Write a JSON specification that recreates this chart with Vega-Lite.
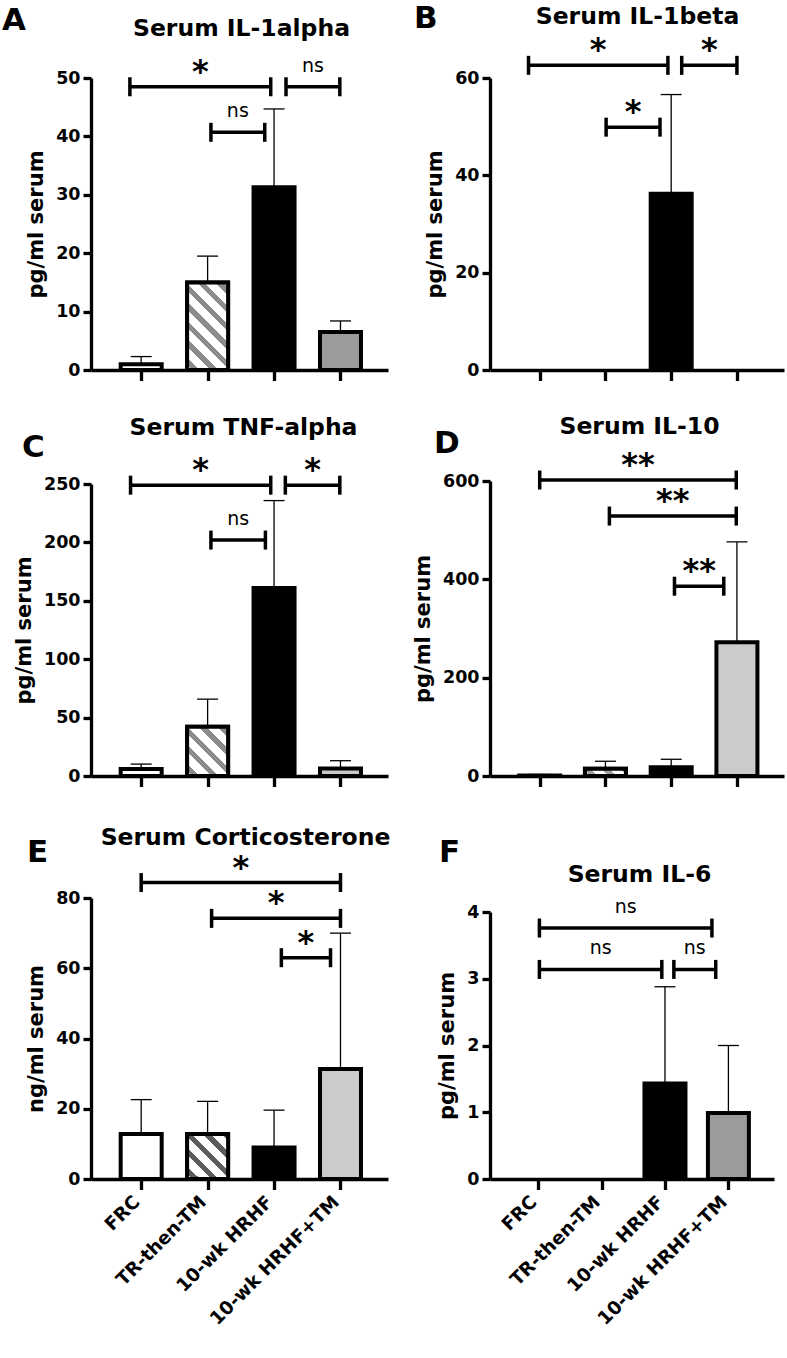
{
  "$schema": "https://vega.github.io/schema/vega-lite/v6.json",
  "background": "white",
  "padding": {"left": 2, "top": 3, "right": 2, "bottom": 10},
  "bounds": "flush",
  "align": "each",
  "columns": 2,
  "spacing": {"row": 111, "column": 102},
  "resolve": {"scale": {"fill": "independent"}},
  "datasets": {
    "bars_A": [
      {"group": "FRC", "pos": 1, "mean": 1.0, "upper": 2.3},
      {"group": "TR-then-TM", "pos": 2, "mean": 15.0, "upper": 19.5},
      {"group": "10-wk HRHF", "pos": 3, "mean": 31.3, "upper": 44.7},
      {"group": "10-wk HRHF+TM", "pos": 4, "mean": 6.5, "upper": 8.4}
    ],
    "br_A": [
      {"id": "a1", "from": 0.83, "to": 2.95, "y": 48.5, "label": "*"},
      {"id": "a2", "from": 2.05, "to": 2.86, "y": 40.7, "label": "ns"},
      {"id": "a3", "from": 3.18, "to": 3.99, "y": 48.5, "label": "ns"}
    ],
    "bars_B": [
      {"group": "FRC", "pos": 1, "mean": 0, "upper": 0},
      {"group": "TR-then-TM", "pos": 2, "mean": 0, "upper": 0},
      {"group": "10-wk HRHF", "pos": 3, "mean": 36.2, "upper": 56.6},
      {"group": "10-wk HRHF+TM", "pos": 4, "mean": 0, "upper": 0}
    ],
    "br_B": [
      {"id": "b1", "from": 0.83, "to": 2.95, "y": 62.6, "label": "*"},
      {"id": "b2", "from": 3.16, "to": 4.0, "y": 62.6, "label": "*"},
      {"id": "b3", "from": 2.01, "to": 2.83, "y": 49.9, "label": "*"}
    ],
    "bars_C": [
      {"group": "FRC", "pos": 1, "mean": 6.0, "upper": 10.2},
      {"group": "TR-then-TM", "pos": 2, "mean": 42.1, "upper": 65.8},
      {"group": "10-wk HRHF", "pos": 3, "mean": 160.9, "upper": 235.8},
      {"group": "10-wk HRHF+TM", "pos": 4, "mean": 6.5, "upper": 13.1}
    ],
    "br_C": [
      {"id": "c1", "from": 0.84, "to": 2.95, "y": 249, "label": "*"},
      {"id": "c2", "from": 3.17, "to": 3.99, "y": 249, "label": "*"},
      {"id": "c3", "from": 2.05, "to": 2.87, "y": 202, "label": "ns"}
    ],
    "bars_D": [
      {"group": "FRC", "pos": 1, "mean": 1.0, "upper": 3.0},
      {"group": "TR-then-TM", "pos": 2, "mean": 15.0, "upper": 30.0},
      {"group": "10-wk HRHF", "pos": 3, "mean": 17.7, "upper": 34.0},
      {"group": "10-wk HRHF+TM", "pos": 4, "mean": 271.8, "upper": 476.0}
    ],
    "br_D": [
      {"id": "d1", "from": 1.0, "to": 3.99, "y": 602, "label": "**"},
      {"id": "d2", "from": 2.06, "to": 3.99, "y": 528.7, "label": "**"},
      {"id": "d3", "from": 3.05, "to": 3.8, "y": 386, "label": "**"}
    ],
    "bars_E": [
      {"group": "FRC", "pos": 1, "mean": 12.8, "upper": 22.6},
      {"group": "TR-then-TM", "pos": 2, "mean": 12.8, "upper": 22.1},
      {"group": "10-wk HRHF", "pos": 3, "mean": 9.0, "upper": 19.6},
      {"group": "10-wk HRHF+TM", "pos": 4, "mean": 31.3, "upper": 70.0}
    ],
    "br_E": [
      {"id": "e1", "from": 1.0, "to": 4.0, "y": 84.4, "label": "*"},
      {"id": "e2", "from": 2.06, "to": 4.0, "y": 74.2, "label": "*"},
      {"id": "e3", "from": 3.11, "to": 3.85, "y": 63.0, "label": "*"}
    ],
    "bars_F": [
      {"group": "FRC", "pos": 1, "mean": 0, "upper": 0},
      {"group": "TR-then-TM", "pos": 2, "mean": 0, "upper": 0},
      {"group": "10-wk HRHF", "pos": 3, "mean": 1.43, "upper": 2.88},
      {"group": "10-wk HRHF+TM", "pos": 4, "mean": 0.99, "upper": 2.0}
    ],
    "br_F": [
      {"id": "f1", "from": 1.02, "to": 3.74, "y": 3.76, "label": "ns"},
      {"id": "f2", "from": 1.02, "to": 2.95, "y": 3.14, "label": "ns"},
      {"id": "f3", "from": 3.14, "to": 3.8, "y": 3.14, "label": "ns"}
    ]
  },
  "concat": [
    {
      "width": 297, "height": 292,
      "title": {"text": "A", "anchor": "start", "frame": "group", "dx": -89, "offset": -20.7},
      "layer": [
        {
          "data": {"name": "bars_A"},
          "transform": [{"filter": "datum.mean > 0"}],
          "mark": {"type": "bar", "orient": "vertical", "width": 41, "stroke": "black", "strokeWidth": 4},
          "encoding": {
            "x": {"field": "pos", "type": "quantitative", "scale": {"domain": [0.32, 4.64], "nice": false, "zero": false},
                  "axis": {"values": [1, 2, 3, 4], "labels": false, "title": "Serum IL-1alpha", "titleX": 150, "titleY": -335, "titleAngle": 0, "titleAlign": "center", "titleBaseline": "alphabetic"}},
            "y": {"field": "mean", "type": "quantitative", "scale": {"domain": [0, 50], "range": [292, 0], "nice": false, "zero": false},
                  "axis": {"values": [0, 10, 20, 30, 40, 50], "title": "pg/ml serum"}},
            "y2": {"datum": 0},
            "fill": {"field": "group", "type": "nominal", "scale": {"domain": ["FRC", "TR-then-TM", "10-wk HRHF", "10-wk HRHF+TM"], "range": ["white", "white", "black", "#9b9b9b"]}, "legend": null}
          }
        },
        {
          "data": {"name": "bars_A"},
          "transform": [{"filter": "datum.group == 'TR-then-TM' && datum.mean > 0"}],
          "mark": {"type": "bar", "orient": "vertical", "width": 41, "stroke": "black", "strokeWidth": 4,
            "fill": {"gradient": "linear", "x1": 0, "y1": 1, "x2": 0.5636, "y2": -0.2042, "stops": [
              {"offset": 0, "color": "white"},
              {"offset": 0.0429, "color": "white"}, {"offset": 0.0429, "color": "#8c8c8c"}, {"offset": 0.1, "color": "#8c8c8c"}, {"offset": 0.1, "color": "white"},
              {"offset": 0.1857, "color": "white"}, {"offset": 0.1857, "color": "#8c8c8c"}, {"offset": 0.2429, "color": "#8c8c8c"}, {"offset": 0.2429, "color": "white"},
              {"offset": 0.3286, "color": "white"}, {"offset": 0.3286, "color": "#8c8c8c"}, {"offset": 0.3857, "color": "#8c8c8c"}, {"offset": 0.3857, "color": "white"},
              {"offset": 0.4714, "color": "white"}, {"offset": 0.4714, "color": "#8c8c8c"}, {"offset": 0.5286, "color": "#8c8c8c"}, {"offset": 0.5286, "color": "white"},
              {"offset": 0.6143, "color": "white"}, {"offset": 0.6143, "color": "#8c8c8c"}, {"offset": 0.6714, "color": "#8c8c8c"}, {"offset": 0.6714, "color": "white"},
              {"offset": 0.7571, "color": "white"}, {"offset": 0.7571, "color": "#8c8c8c"}, {"offset": 0.8143, "color": "#8c8c8c"}, {"offset": 0.8143, "color": "white"},
              {"offset": 0.9, "color": "white"}, {"offset": 0.9, "color": "#8c8c8c"}, {"offset": 0.9571, "color": "#8c8c8c"}, {"offset": 0.9571, "color": "white"},
              {"offset": 1, "color": "white"}]}},
          "encoding": {
            "x": {"field": "pos", "type": "quantitative", "scale": {"domain": [0.32, 4.64], "nice": false, "zero": false}},
            "y": {"field": "mean", "type": "quantitative", "scale": {"domain": [0, 50], "range": [292, 0], "nice": false, "zero": false}},
            "y2": {"datum": 0}
          }
        },
        {
          "data": {"name": "bars_A"},
          "transform": [{"filter": "datum.upper > 0"}],
          "mark": {"type": "rule", "color": "black", "strokeWidth": 1.3},
          "encoding": {
            "x": {"field": "pos", "type": "quantitative", "scale": {"domain": [0.32, 4.64], "nice": false, "zero": false}},
            "y": {"field": "mean", "type": "quantitative", "scale": {"domain": [0, 50], "range": [292, 0], "nice": false, "zero": false}},
            "y2": {"field": "upper"}
          }
        },
        {
          "data": {"name": "bars_A"},
          "transform": [{"filter": "datum.upper > 0"}],
          "mark": {"type": "tick", "orient": "horizontal", "size": 21, "thickness": 1.3, "color": "black", "opacity": 1},
          "encoding": {
            "x": {"field": "pos", "type": "quantitative", "scale": {"domain": [0.32, 4.64], "nice": false, "zero": false}},
            "y": {"field": "upper", "type": "quantitative", "scale": {"domain": [0, 50], "range": [292, 0], "nice": false, "zero": false}}
          }
        },
        {
          "data": {"name": "br_A"},
          "transform": [{"fold": ["from", "to"], "as": ["end", "pos"]}],
          "layer": [
            {"mark": {"type": "line", "color": "black", "strokeWidth": 3.5, "strokeCap": "butt"},
             "encoding": {
               "x": {"field": "pos", "type": "quantitative", "scale": {"domain": [0.32, 4.64], "nice": false, "zero": false}},
               "y": {"field": "y", "type": "quantitative", "scale": {"domain": [0, 50], "range": [292, 0], "nice": false, "zero": false}},
               "detail": {"field": "id"}}},
            {"mark": {"type": "tick", "orient": "vertical", "size": 19, "thickness": 3.5, "color": "black", "opacity": 1},
             "encoding": {
               "x": {"field": "pos", "type": "quantitative", "scale": {"domain": [0.32, 4.64], "nice": false, "zero": false}},
               "y": {"field": "y", "type": "quantitative", "scale": {"domain": [0, 50], "range": [292, 0], "nice": false, "zero": false}}}},
            {"transform": [{"filter": "datum.label != 'ns'"}],
             "mark": {"type": "text", "font": "DejaVu Sans", "fontSize": 32, "fontWeight": "bold", "baseline": "alphabetic", "align": "center", "dy": -5, "color": "black"},
             "encoding": {
               "x": {"aggregate": "mean", "field": "pos", "type": "quantitative", "scale": {"domain": [0.32, 4.64], "nice": false, "zero": false}},
               "y": {"field": "y", "type": "quantitative", "scale": {"domain": [0, 50], "range": [292, 0], "nice": false, "zero": false}},
               "text": {"field": "label"}, "detail": {"field": "id"}}},
            {"transform": [{"filter": "datum.label == 'ns'"}],
             "mark": {"type": "text", "font": "DejaVu Sans", "fontSize": 19, "fontWeight": "normal", "baseline": "alphabetic", "align": "center", "dy": -15, "color": "black"},
             "encoding": {
               "x": {"aggregate": "mean", "field": "pos", "type": "quantitative", "scale": {"domain": [0.32, 4.64], "nice": false, "zero": false}},
               "y": {"field": "y", "type": "quantitative", "scale": {"domain": [0, 50], "range": [292, 0], "nice": false, "zero": false}},
               "text": {"field": "label"}, "detail": {"field": "id"}}}
          ]
        }
      ]
    },
    {
      "width": 294, "height": 292,
      "title": {"text": "B", "anchor": "start", "frame": "group", "dx": -76, "offset": -31.4},
      "layer": [
        {
          "data": {"name": "bars_B"},
          "transform": [{"filter": "datum.mean > 0"}],
          "mark": {"type": "bar", "orient": "vertical", "width": 41, "stroke": "black", "strokeWidth": 4},
          "encoding": {
            "x": {"field": "pos", "type": "quantitative", "scale": {"domain": [0.32, 4.64], "nice": false, "zero": false},
                  "axis": {"values": [1, 2, 3, 4], "labels": false, "title": "Serum IL-1beta", "titleX": 147, "titleY": -347, "titleAngle": 0, "titleAlign": "center", "titleBaseline": "alphabetic"}},
            "y": {"field": "mean", "type": "quantitative", "scale": {"domain": [0, 60], "range": [292, 0], "nice": false, "zero": false},
                  "axis": {"values": [0, 20, 40, 60], "title": "pg/ml serum"}},
            "y2": {"datum": 0},
            "fill": {"field": "group", "type": "nominal", "scale": {"domain": ["FRC", "TR-then-TM", "10-wk HRHF", "10-wk HRHF+TM"], "range": ["white", "white", "black", "#9b9b9b"]}, "legend": null}
          }
        },
        {
          "data": {"name": "bars_B"},
          "transform": [{"filter": "datum.upper > 0"}],
          "mark": {"type": "rule", "color": "black", "strokeWidth": 1.3},
          "encoding": {
            "x": {"field": "pos", "type": "quantitative", "scale": {"domain": [0.32, 4.64], "nice": false, "zero": false}},
            "y": {"field": "mean", "type": "quantitative", "scale": {"domain": [0, 60], "range": [292, 0], "nice": false, "zero": false}},
            "y2": {"field": "upper"}
          }
        },
        {
          "data": {"name": "bars_B"},
          "transform": [{"filter": "datum.upper > 0"}],
          "mark": {"type": "tick", "orient": "horizontal", "size": 21, "thickness": 1.3, "color": "black", "opacity": 1},
          "encoding": {
            "x": {"field": "pos", "type": "quantitative", "scale": {"domain": [0.32, 4.64], "nice": false, "zero": false}},
            "y": {"field": "upper", "type": "quantitative", "scale": {"domain": [0, 60], "range": [292, 0], "nice": false, "zero": false}}
          }
        },
        {
          "data": {"name": "br_B"},
          "transform": [{"fold": ["from", "to"], "as": ["end", "pos"]}],
          "layer": [
            {"mark": {"type": "line", "color": "black", "strokeWidth": 3.5, "strokeCap": "butt"},
             "encoding": {
               "x": {"field": "pos", "type": "quantitative", "scale": {"domain": [0.32, 4.64], "nice": false, "zero": false}},
               "y": {"field": "y", "type": "quantitative", "scale": {"domain": [0, 60], "range": [292, 0], "nice": false, "zero": false}},
               "detail": {"field": "id"}}},
            {"mark": {"type": "tick", "orient": "vertical", "size": 19, "thickness": 3.5, "color": "black", "opacity": 1},
             "encoding": {
               "x": {"field": "pos", "type": "quantitative", "scale": {"domain": [0.32, 4.64], "nice": false, "zero": false}},
               "y": {"field": "y", "type": "quantitative", "scale": {"domain": [0, 60], "range": [292, 0], "nice": false, "zero": false}}}},
            {"transform": [{"filter": "datum.label != 'ns'"}],
             "mark": {"type": "text", "font": "DejaVu Sans", "fontSize": 32, "fontWeight": "bold", "baseline": "alphabetic", "align": "center", "dy": -5, "color": "black"},
             "encoding": {
               "x": {"aggregate": "mean", "field": "pos", "type": "quantitative", "scale": {"domain": [0.32, 4.64], "nice": false, "zero": false}},
               "y": {"field": "y", "type": "quantitative", "scale": {"domain": [0, 60], "range": [292, 0], "nice": false, "zero": false}},
               "text": {"field": "label"}, "detail": {"field": "id"}}}
          ]
        }
      ]
    },
    {
      "width": 297, "height": 295,
      "title": {"text": "C", "anchor": "start", "frame": "group", "dx": -69, "offset": -48.7},
      "layer": [
        {
          "data": {"name": "bars_C"},
          "transform": [{"filter": "datum.mean > 0"}],
          "mark": {"type": "bar", "orient": "vertical", "width": 41, "stroke": "black", "strokeWidth": 4},
          "encoding": {
            "x": {"field": "pos", "type": "quantitative", "scale": {"domain": [0.32, 4.64], "nice": false, "zero": false},
                  "axis": {"values": [1, 2, 3, 4], "labels": false, "title": "Serum TNF-alpha", "titleX": 152, "titleY": -342, "titleAngle": 0, "titleAlign": "center", "titleBaseline": "alphabetic"}},
            "y": {"field": "mean", "type": "quantitative", "scale": {"domain": [0, 250], "range": [295, 3], "nice": false, "zero": false},
                  "axis": {"values": [0, 50, 100, 150, 200, 250], "title": "pg/ml serum"}},
            "y2": {"datum": 0},
            "fill": {"field": "group", "type": "nominal", "scale": {"domain": ["FRC", "TR-then-TM", "10-wk HRHF", "10-wk HRHF+TM"], "range": ["white", "white", "black", "#c8c8c8"]}, "legend": null}
          }
        },
        {
          "data": {"name": "bars_C"},
          "transform": [{"filter": "datum.group == 'TR-then-TM' && datum.mean > 0"}],
          "mark": {"type": "bar", "orient": "vertical", "width": 41, "stroke": "black", "strokeWidth": 4,
            "fill": {"gradient": "linear", "x1": 0, "y1": 1, "x2": 0.9016, "y2": -0.082, "stops": [
              {"offset": 0, "color": "white"},
              {"offset": 0.0612, "color": "white"}, {"offset": 0.0612, "color": "#8c8c8c"}, {"offset": 0.1429, "color": "#8c8c8c"}, {"offset": 0.1429, "color": "white"},
              {"offset": 0.2653, "color": "white"}, {"offset": 0.2653, "color": "#8c8c8c"}, {"offset": 0.3469, "color": "#8c8c8c"}, {"offset": 0.3469, "color": "white"},
              {"offset": 0.4694, "color": "white"}, {"offset": 0.4694, "color": "#8c8c8c"}, {"offset": 0.551, "color": "#8c8c8c"}, {"offset": 0.551, "color": "white"},
              {"offset": 0.6735, "color": "white"}, {"offset": 0.6735, "color": "#8c8c8c"}, {"offset": 0.7551, "color": "#8c8c8c"}, {"offset": 0.7551, "color": "white"},
              {"offset": 0.8776, "color": "white"}, {"offset": 0.8776, "color": "#8c8c8c"}, {"offset": 0.9592, "color": "#8c8c8c"}, {"offset": 0.9592, "color": "white"},
              {"offset": 1, "color": "white"}]}},
          "encoding": {
            "x": {"field": "pos", "type": "quantitative", "scale": {"domain": [0.32, 4.64], "nice": false, "zero": false}},
            "y": {"field": "mean", "type": "quantitative", "scale": {"domain": [0, 250], "range": [295, 3], "nice": false, "zero": false}},
            "y2": {"datum": 0}
          }
        },
        {
          "data": {"name": "bars_C"},
          "transform": [{"filter": "datum.upper > 0"}],
          "mark": {"type": "rule", "color": "black", "strokeWidth": 1.3},
          "encoding": {
            "x": {"field": "pos", "type": "quantitative", "scale": {"domain": [0.32, 4.64], "nice": false, "zero": false}},
            "y": {"field": "mean", "type": "quantitative", "scale": {"domain": [0, 250], "range": [295, 3], "nice": false, "zero": false}},
            "y2": {"field": "upper"}
          }
        },
        {
          "data": {"name": "bars_C"},
          "transform": [{"filter": "datum.upper > 0"}],
          "mark": {"type": "tick", "orient": "horizontal", "size": 21, "thickness": 1.3, "color": "black", "opacity": 1},
          "encoding": {
            "x": {"field": "pos", "type": "quantitative", "scale": {"domain": [0.32, 4.64], "nice": false, "zero": false}},
            "y": {"field": "upper", "type": "quantitative", "scale": {"domain": [0, 250], "range": [295, 3], "nice": false, "zero": false}}
          }
        },
        {
          "data": {"name": "br_C"},
          "transform": [{"fold": ["from", "to"], "as": ["end", "pos"]}],
          "layer": [
            {"mark": {"type": "line", "color": "black", "strokeWidth": 3.5, "strokeCap": "butt"},
             "encoding": {
               "x": {"field": "pos", "type": "quantitative", "scale": {"domain": [0.32, 4.64], "nice": false, "zero": false}},
               "y": {"field": "y", "type": "quantitative", "scale": {"domain": [0, 250], "range": [295, 3], "nice": false, "zero": false}},
               "detail": {"field": "id"}}},
            {"mark": {"type": "tick", "orient": "vertical", "size": 19, "thickness": 3.5, "color": "black", "opacity": 1},
             "encoding": {
               "x": {"field": "pos", "type": "quantitative", "scale": {"domain": [0.32, 4.64], "nice": false, "zero": false}},
               "y": {"field": "y", "type": "quantitative", "scale": {"domain": [0, 250], "range": [295, 3], "nice": false, "zero": false}}}},
            {"transform": [{"filter": "datum.label != 'ns'"}],
             "mark": {"type": "text", "font": "DejaVu Sans", "fontSize": 32, "fontWeight": "bold", "baseline": "alphabetic", "align": "center", "dy": -5, "color": "black"},
             "encoding": {
               "x": {"aggregate": "mean", "field": "pos", "type": "quantitative", "scale": {"domain": [0.32, 4.64], "nice": false, "zero": false}},
               "y": {"field": "y", "type": "quantitative", "scale": {"domain": [0, 250], "range": [295, 3], "nice": false, "zero": false}},
               "text": {"field": "label"}, "detail": {"field": "id"}}},
            {"transform": [{"filter": "datum.label == 'ns'"}],
             "mark": {"type": "text", "font": "DejaVu Sans", "fontSize": 19, "fontWeight": "normal", "baseline": "alphabetic", "align": "center", "dy": -15, "color": "black"},
             "encoding": {
               "x": {"aggregate": "mean", "field": "pos", "type": "quantitative", "scale": {"domain": [0.32, 4.64], "nice": false, "zero": false}},
               "y": {"field": "y", "type": "quantitative", "scale": {"domain": [0, 250], "range": [295, 3], "nice": false, "zero": false}},
               "text": {"field": "label"}, "detail": {"field": "id"}}}
          ]
        }
      ]
    },
    {
      "width": 294, "height": 295,
      "title": {"text": "D", "anchor": "start", "frame": "group", "dx": -56, "offset": -45.7},
      "layer": [
        {
          "data": {"name": "bars_D"},
          "transform": [{"filter": "datum.mean > 0"}],
          "mark": {"type": "bar", "orient": "vertical", "width": 41, "stroke": "black", "strokeWidth": 4},
          "encoding": {
            "x": {"field": "pos", "type": "quantitative", "scale": {"domain": [0.32, 4.64], "nice": false, "zero": false},
                  "axis": {"values": [1, 2, 3, 4], "labels": false, "title": "Serum IL-10", "titleX": 149, "titleY": -343, "titleAngle": 0, "titleAlign": "center", "titleBaseline": "alphabetic"}},
            "y": {"field": "mean", "type": "quantitative", "scale": {"domain": [0, 600], "range": [295, 0], "nice": false, "zero": false},
                  "axis": {"values": [0, 200, 400, 600], "title": "pg/ml serum"}},
            "y2": {"datum": 0},
            "fill": {"field": "group", "type": "nominal", "scale": {"domain": ["FRC", "TR-then-TM", "10-wk HRHF", "10-wk HRHF+TM"], "range": ["white", "white", "black", "#cbcbcb"]}, "legend": null}
          }
        },
        {
          "data": {"name": "bars_D"},
          "transform": [{"filter": "datum.group == 'TR-then-TM' && datum.mean > 0"}],
          "mark": {"type": "bar", "orient": "vertical", "width": 41, "stroke": "black", "strokeWidth": 4,
            "fill": {"gradient": "linear", "x1": 0, "y1": 1, "x2": 1.1432, "y2": 0.7937, "stops": [
              {"offset": 0, "color": "white"},
              {"offset": 0.1141, "color": "white"}, {"offset": 0.1141, "color": "#a0a0a0"}, {"offset": 0.2662, "color": "#a0a0a0"}, {"offset": 0.2662, "color": "white"},
              {"offset": 0.4943, "color": "white"}, {"offset": 0.4943, "color": "#a0a0a0"}, {"offset": 0.6464, "color": "#a0a0a0"}, {"offset": 0.6464, "color": "white"},
              {"offset": 0.8745, "color": "white"}, {"offset": 0.8745, "color": "#a0a0a0"}, {"offset": 1, "color": "#a0a0a0"}]}},
          "encoding": {
            "x": {"field": "pos", "type": "quantitative", "scale": {"domain": [0.32, 4.64], "nice": false, "zero": false}},
            "y": {"field": "mean", "type": "quantitative", "scale": {"domain": [0, 600], "range": [295, 0], "nice": false, "zero": false}},
            "y2": {"datum": 0}
          }
        },
        {
          "data": {"name": "bars_D"},
          "transform": [{"filter": "datum.upper > 0"}],
          "mark": {"type": "rule", "color": "black", "strokeWidth": 1.3},
          "encoding": {
            "x": {"field": "pos", "type": "quantitative", "scale": {"domain": [0.32, 4.64], "nice": false, "zero": false}},
            "y": {"field": "mean", "type": "quantitative", "scale": {"domain": [0, 600], "range": [295, 0], "nice": false, "zero": false}},
            "y2": {"field": "upper"}
          }
        },
        {
          "data": {"name": "bars_D"},
          "transform": [{"filter": "datum.upper > 0"}],
          "mark": {"type": "tick", "orient": "horizontal", "size": 21, "thickness": 1.3, "color": "black", "opacity": 1},
          "encoding": {
            "x": {"field": "pos", "type": "quantitative", "scale": {"domain": [0.32, 4.64], "nice": false, "zero": false}},
            "y": {"field": "upper", "type": "quantitative", "scale": {"domain": [0, 600], "range": [295, 0], "nice": false, "zero": false}}
          }
        },
        {
          "data": {"name": "br_D"},
          "transform": [{"fold": ["from", "to"], "as": ["end", "pos"]}],
          "layer": [
            {"mark": {"type": "line", "color": "black", "strokeWidth": 3.5, "strokeCap": "butt"},
             "encoding": {
               "x": {"field": "pos", "type": "quantitative", "scale": {"domain": [0.32, 4.64], "nice": false, "zero": false}},
               "y": {"field": "y", "type": "quantitative", "scale": {"domain": [0, 600], "range": [295, 0], "nice": false, "zero": false}},
               "detail": {"field": "id"}}},
            {"mark": {"type": "tick", "orient": "vertical", "size": 19, "thickness": 3.5, "color": "black", "opacity": 1},
             "encoding": {
               "x": {"field": "pos", "type": "quantitative", "scale": {"domain": [0.32, 4.64], "nice": false, "zero": false}},
               "y": {"field": "y", "type": "quantitative", "scale": {"domain": [0, 600], "range": [295, 0], "nice": false, "zero": false}}}},
            {"transform": [{"filter": "datum.label != 'ns'"}],
             "mark": {"type": "text", "font": "DejaVu Sans", "fontSize": 32, "fontWeight": "bold", "baseline": "alphabetic", "align": "center", "dy": -5, "color": "black"},
             "encoding": {
               "x": {"aggregate": "mean", "field": "pos", "type": "quantitative", "scale": {"domain": [0.32, 4.64], "nice": false, "zero": false}},
               "y": {"field": "y", "type": "quantitative", "scale": {"domain": [0, 600], "range": [295, 0], "nice": false, "zero": false}},
               "text": {"field": "label"}, "detail": {"field": "id"}}}
          ]
        }
      ]
    },
    {
      "width": 297, "height": 292,
      "title": {"text": "E", "anchor": "start", "frame": "group", "dx": -64, "offset": -43.7},
      "layer": [
        {
          "data": {"name": "bars_E"},
          "transform": [{"filter": "datum.mean > 0"}],
          "mark": {"type": "bar", "orient": "vertical", "width": 41, "stroke": "black", "strokeWidth": 4},
          "encoding": {
            "x": {"field": "pos", "type": "quantitative", "scale": {"domain": [0.32, 4.64], "nice": false, "zero": false},
                  "axis": {"values": [1, 2, 3, 4], "labelExpr": "['', 'FRC', 'TR-then-TM', '10-wk HRHF', '10-wk HRHF+TM'][datum.value]", "labelAngle": -45, "labelAlign": "right", "labelBaseline": "middle", "labelPadding": 9, "labelOffset": -5,
                           "title": "Serum Corticosterone", "titleX": 154, "titleY": -335, "titleAngle": 0, "titleAlign": "center", "titleBaseline": "alphabetic"}},
            "y": {"field": "mean", "type": "quantitative", "scale": {"domain": [0, 80], "range": [292, 11], "nice": false, "zero": false},
                  "axis": {"values": [0, 20, 40, 60, 80], "title": "ng/ml serum"}},
            "y2": {"datum": 0},
            "fill": {"field": "group", "type": "nominal", "scale": {"domain": ["FRC", "TR-then-TM", "10-wk HRHF", "10-wk HRHF+TM"], "range": ["white", "white", "black", "#cbcbcb"]}, "legend": null}
          }
        },
        {
          "data": {"name": "bars_E"},
          "transform": [{"filter": "datum.group == 'TR-then-TM' && datum.mean > 0"}],
          "mark": {"type": "bar", "orient": "vertical", "width": 41, "stroke": "black", "strokeWidth": 4,
            "fill": {"gradient": "linear", "x1": 0, "y1": 1, "x2": 0.9514, "y2": -0.0443, "stops": [
              {"offset": 0, "color": "white"},
              {"offset": 0.0642, "color": "white"}, {"offset": 0.0642, "color": "#5c5c5c"}, {"offset": 0.1499, "color": "#5c5c5c"}, {"offset": 0.1499, "color": "white"},
              {"offset": 0.2784, "color": "white"}, {"offset": 0.2784, "color": "#5c5c5c"}, {"offset": 0.364, "color": "#5c5c5c"}, {"offset": 0.364, "color": "white"},
              {"offset": 0.4925, "color": "white"}, {"offset": 0.4925, "color": "#5c5c5c"}, {"offset": 0.5782, "color": "#5c5c5c"}, {"offset": 0.5782, "color": "white"},
              {"offset": 0.7066, "color": "white"}, {"offset": 0.7066, "color": "#5c5c5c"}, {"offset": 0.7923, "color": "#5c5c5c"}, {"offset": 0.7923, "color": "white"},
              {"offset": 0.9208, "color": "white"}, {"offset": 0.9208, "color": "#5c5c5c"}, {"offset": 1, "color": "#5c5c5c"}]}},
          "encoding": {
            "x": {"field": "pos", "type": "quantitative", "scale": {"domain": [0.32, 4.64], "nice": false, "zero": false}},
            "y": {"field": "mean", "type": "quantitative", "scale": {"domain": [0, 80], "range": [292, 11], "nice": false, "zero": false}},
            "y2": {"datum": 0}
          }
        },
        {
          "data": {"name": "bars_E"},
          "transform": [{"filter": "datum.upper > 0"}],
          "mark": {"type": "rule", "color": "black", "strokeWidth": 1.3},
          "encoding": {
            "x": {"field": "pos", "type": "quantitative", "scale": {"domain": [0.32, 4.64], "nice": false, "zero": false}},
            "y": {"field": "mean", "type": "quantitative", "scale": {"domain": [0, 80], "range": [292, 11], "nice": false, "zero": false}},
            "y2": {"field": "upper"}
          }
        },
        {
          "data": {"name": "bars_E"},
          "transform": [{"filter": "datum.upper > 0"}],
          "mark": {"type": "tick", "orient": "horizontal", "size": 21, "thickness": 1.3, "color": "black", "opacity": 1},
          "encoding": {
            "x": {"field": "pos", "type": "quantitative", "scale": {"domain": [0.32, 4.64], "nice": false, "zero": false}},
            "y": {"field": "upper", "type": "quantitative", "scale": {"domain": [0, 80], "range": [292, 11], "nice": false, "zero": false}}
          }
        },
        {
          "data": {"name": "br_E"},
          "transform": [{"fold": ["from", "to"], "as": ["end", "pos"]}],
          "layer": [
            {"mark": {"type": "line", "color": "black", "strokeWidth": 3.5, "strokeCap": "butt"},
             "encoding": {
               "x": {"field": "pos", "type": "quantitative", "scale": {"domain": [0.32, 4.64], "nice": false, "zero": false}},
               "y": {"field": "y", "type": "quantitative", "scale": {"domain": [0, 80], "range": [292, 11], "nice": false, "zero": false}},
               "detail": {"field": "id"}}},
            {"mark": {"type": "tick", "orient": "vertical", "size": 19, "thickness": 3.5, "color": "black", "opacity": 1},
             "encoding": {
               "x": {"field": "pos", "type": "quantitative", "scale": {"domain": [0.32, 4.64], "nice": false, "zero": false}},
               "y": {"field": "y", "type": "quantitative", "scale": {"domain": [0, 80], "range": [292, 11], "nice": false, "zero": false}}}},
            {"transform": [{"filter": "datum.label != 'ns'"}],
             "mark": {"type": "text", "font": "DejaVu Sans", "fontSize": 32, "fontWeight": "bold", "baseline": "alphabetic", "align": "center", "dy": -5, "color": "black"},
             "encoding": {
               "x": {"aggregate": "mean", "field": "pos", "type": "quantitative", "scale": {"domain": [0.32, 4.64], "nice": false, "zero": false}},
               "y": {"field": "y", "type": "quantitative", "scale": {"domain": [0, 80], "range": [292, 11], "nice": false, "zero": false}},
               "text": {"field": "label"}, "detail": {"field": "id"}}}
          ]
        }
      ]
    },
    {
      "width": 284, "height": 292,
      "title": {"text": "F", "anchor": "start", "frame": "group", "dx": -51, "offset": -6.7},
      "layer": [
        {
          "data": {"name": "bars_F"},
          "transform": [{"filter": "datum.mean > 0"}],
          "mark": {"type": "bar", "orient": "vertical", "width": 41, "stroke": "black", "strokeWidth": 4},
          "encoding": {
            "x": {"field": "pos", "type": "quantitative", "scale": {"domain": [0.32, 4.64], "nice": false, "zero": false},
                  "axis": {"values": [1, 2, 3, 4], "labelExpr": "['', 'FRC', 'TR-then-TM', '10-wk HRHF', '10-wk HRHF+TM'][datum.value]", "labelAngle": -45, "labelAlign": "right", "labelBaseline": "middle", "labelPadding": 9, "labelOffset": -5,
                           "title": "Serum IL-6", "titleX": 149, "titleY": -298, "titleAngle": 0, "titleAlign": "center", "titleBaseline": "alphabetic"}},
            "y": {"field": "mean", "type": "quantitative", "scale": {"domain": [0, 4], "range": [292, 25], "nice": false, "zero": false},
                  "axis": {"values": [0, 1, 2, 3, 4], "format": "d", "title": "pg/ml serum"}},
            "y2": {"datum": 0},
            "fill": {"field": "group", "type": "nominal", "scale": {"domain": ["FRC", "TR-then-TM", "10-wk HRHF", "10-wk HRHF+TM"], "range": ["white", "white", "black", "#9b9b9b"]}, "legend": null}
          }
        },
        {
          "data": {"name": "bars_F"},
          "transform": [{"filter": "datum.upper > 0"}],
          "mark": {"type": "rule", "color": "black", "strokeWidth": 1.3},
          "encoding": {
            "x": {"field": "pos", "type": "quantitative", "scale": {"domain": [0.32, 4.64], "nice": false, "zero": false}},
            "y": {"field": "mean", "type": "quantitative", "scale": {"domain": [0, 4], "range": [292, 25], "nice": false, "zero": false}},
            "y2": {"field": "upper"}
          }
        },
        {
          "data": {"name": "bars_F"},
          "transform": [{"filter": "datum.upper > 0"}],
          "mark": {"type": "tick", "orient": "horizontal", "size": 21, "thickness": 1.3, "color": "black", "opacity": 1},
          "encoding": {
            "x": {"field": "pos", "type": "quantitative", "scale": {"domain": [0.32, 4.64], "nice": false, "zero": false}},
            "y": {"field": "upper", "type": "quantitative", "scale": {"domain": [0, 4], "range": [292, 25], "nice": false, "zero": false}}
          }
        },
        {
          "data": {"name": "br_F"},
          "transform": [{"fold": ["from", "to"], "as": ["end", "pos"]}],
          "layer": [
            {"mark": {"type": "line", "color": "black", "strokeWidth": 3.5, "strokeCap": "butt"},
             "encoding": {
               "x": {"field": "pos", "type": "quantitative", "scale": {"domain": [0.32, 4.64], "nice": false, "zero": false}},
               "y": {"field": "y", "type": "quantitative", "scale": {"domain": [0, 4], "range": [292, 25], "nice": false, "zero": false}},
               "detail": {"field": "id"}}},
            {"mark": {"type": "tick", "orient": "vertical", "size": 19, "thickness": 3.5, "color": "black", "opacity": 1},
             "encoding": {
               "x": {"field": "pos", "type": "quantitative", "scale": {"domain": [0.32, 4.64], "nice": false, "zero": false}},
               "y": {"field": "y", "type": "quantitative", "scale": {"domain": [0, 4], "range": [292, 25], "nice": false, "zero": false}}}},
            {"transform": [{"filter": "datum.label == 'ns'"}],
             "mark": {"type": "text", "font": "DejaVu Sans", "fontSize": 19, "fontWeight": "normal", "baseline": "alphabetic", "align": "center", "dy": -15, "color": "black"},
             "encoding": {
               "x": {"aggregate": "mean", "field": "pos", "type": "quantitative", "scale": {"domain": [0.32, 4.64], "nice": false, "zero": false}},
               "y": {"field": "y", "type": "quantitative", "scale": {"domain": [0, 4], "range": [292, 25], "nice": false, "zero": false}},
               "text": {"field": "label"}, "detail": {"field": "id"}}}
          ]
        }
      ]
    }
  ],
  "config": {
    "font": "DejaVu Sans",
    "view": {"stroke": null},
    "axis": {
      "domainColor": "black", "domainWidth": 3.3, "tickColor": "black", "tickWidth": 3.3,
      "labelColor": "black", "labelFont": "DejaVu Sans", "labelFontWeight": "bold", "labelFontSize": 17.5,
      "titleColor": "black", "titleFont": "DejaVu Sans", "titleFontWeight": "bold",
      "grid": false, "labelFlush": false, "labelOverlap": false, "labelBound": false
    },
    "axisY": {"tickSize": 8, "labelPadding": 3, "titleFontSize": 21, "titlePadding": 9},
    "axisX": {"tickSize": 10.5, "labelFontSize": 18.5, "labelPadding": 4, "titleFontSize": 23.5},
    "title": {"font": "DejaVu Sans", "fontWeight": "bold", "fontSize": 31, "color": "black"}
  }
}
